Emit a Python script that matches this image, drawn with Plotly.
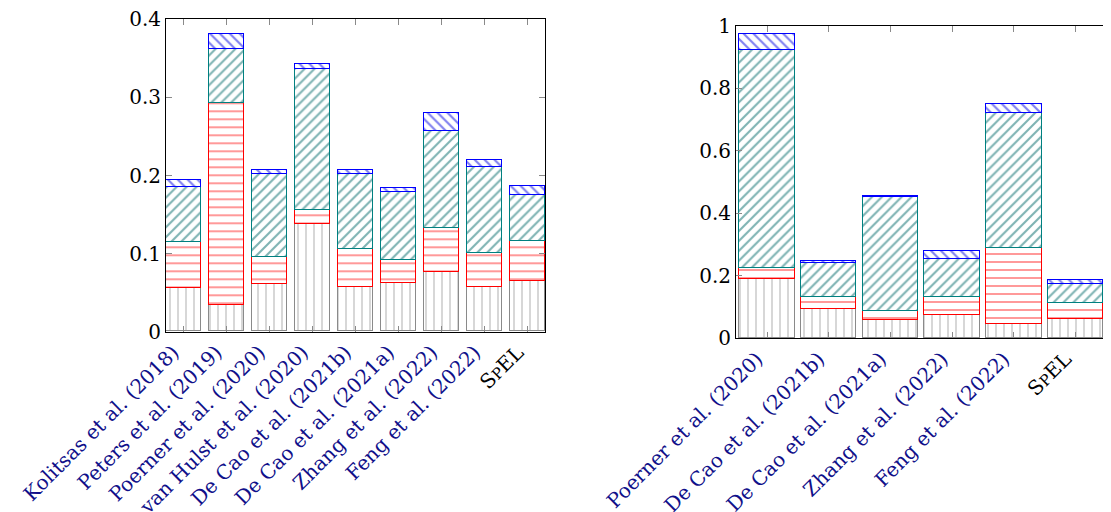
import plotly.graph_objects as go

# ---- data ----
left_labels = ["Kolitsas et al. (2018)", "Peters et al. (2019)", "Poerner et al. (2020)",
               "van Hulst et al. (2020)", "De Cao et al. (2021b)", "De Cao et al. (2021a)",
               "Zhang et al. (2022)", "Feng et al. (2022)", "SpEL"]
left_grey = [0.056, 0.034, 0.061, 0.137, 0.057, 0.062, 0.076, 0.057, 0.065]
left_red = [0.059, 0.258, 0.034, 0.019, 0.049, 0.030, 0.057, 0.043, 0.051]
left_teal = [0.070, 0.070, 0.107, 0.180, 0.095, 0.087, 0.123, 0.110, 0.059]
left_blue = [0.009, 0.019, 0.005, 0.007, 0.006, 0.005, 0.024, 0.010, 0.011]

right_labels = ["Poerner et al. (2020)", "De Cao et al. (2021b)", "De Cao et al. (2021a)",
                "Zhang et al. (2022)", "Feng et al. (2022)", "SpEL"]
right_grey = [0.189, 0.093, 0.059, 0.076, 0.047, 0.063]
right_red = [0.035, 0.038, 0.029, 0.056, 0.241, 0.050]
right_teal = [0.699, 0.110, 0.363, 0.123, 0.435, 0.060]
right_blue = [0.051, 0.005, 0.004, 0.025, 0.027, 0.013]

left_yticks = [0, 0.1, 0.2, 0.3, 0.4]
left_yticktext = ["0", "0.1", "0.2", "0.3", "0.4"]
right_yticks = [0, 0.2, 0.4, 0.6, 0.8, 1.0]
right_yticktext = ["0", "0.2", "0.4", "0.6", "0.8", "1"]

# ---- styles ----
FONT = "DejaVu Serif"
NAVY = "#10108a"
OFF = 8  # page body margin
W, H = 1111 - OFF, 512 - OFF

series_styles = [
    dict(line="#8a8a8a", fg="#909090", shape="|", size=8, sol=0.18),
    dict(line="#ff0000", fg="#ff0000", shape="-", size=8, sol=0.2),
    dict(line="#008080", fg="#006868", shape="/", size=7, sol=0.3),
    dict(line="#0000ff", fg="#0000e0", shape="\\", size=7, sol=0.3),
]


def fmt_label(s):
    if s == "SpEL":
        return '<span style="color:#000000">S<span style="font-size:15px">P</span>EL</span>'
    return s


fig = go.Figure()


def add_panel(labels, series, width, xa, ya):
    xs = list(range(len(labels)))
    for vals, st in zip(series, series_styles):
        fig.add_trace(go.Bar(
            x=xs, y=vals, width=width, xaxis=xa, yaxis=ya, showlegend=False,
            marker=dict(color="white",
                        line=dict(color=st["line"], width=1.2),
                        pattern=dict(shape=st["shape"], fgcolor=st["fg"], bgcolor="white",
                                     size=st["size"], solidity=st["sol"])),
        ))


add_panel(left_labels, [left_grey, left_red, left_teal, left_blue], 0.81, "x", "y")
add_panel(right_labels, [right_grey, right_red, right_teal, right_blue], 0.9, "x2", "y2")

axis_common = dict(showline=True, linecolor="black", linewidth=1, mirror="ticks",
                   ticks="inside", ticklen=6, tickcolor="#8a8a8a", tickwidth=1,
                   showgrid=False, zeroline=False, automargin=False,
                   ticklabeloverflow="allow")


def px_x(p):
    return (p - OFF) / W


def px_y(p):
    return (H - (p - OFF)) / H


left_dom_x = [px_x(166), px_x(545)]
left_dom_y = [px_y(331.7), px_y(19.3)]
right_dom_x = [px_x(736), 1.0]
right_dom_y = [px_y(338.3), px_y(26)]

xtickfont = dict(family=FONT, size=20, color=NAVY)

fig.update_layout(
    width=W, height=H, barmode="stack", bargap=0,
    paper_bgcolor="white", plot_bgcolor="white",
    margin=dict(l=0, r=0, t=0, b=0, autoexpand=False),
    font=dict(family=FONT, size=20, color="black"),
    xaxis=dict(domain=left_dom_x, anchor="y", range=[-0.4, 8.4],
               tickvals=list(range(len(left_labels))),
               ticktext=[fmt_label(s) for s in left_labels],
               tickangle=-45, tickfont=xtickfont, ticklabelshift=-10,
               **axis_common),
    yaxis=dict(domain=left_dom_y, anchor="x", range=[0, 0.4],
               tickvals=left_yticks, ticktext=left_yticktext,
               tickfont=dict(family=FONT, size=20, color="black"),
               **axis_common),
    xaxis2=dict(domain=right_dom_x, anchor="y2", range=[-0.503, 5.449 + OFF / 63],
                tickvals=list(range(len(right_labels))),
                ticktext=[fmt_label(s) for s in right_labels],
                tickangle=-45, tickfont=xtickfont, ticklabelshift=-10,
                **axis_common),
    yaxis2=dict(domain=right_dom_y, anchor="x2", range=[0, 1.0],
                tickvals=right_yticks, ticktext=right_yticktext,
                tickfont=dict(family=FONT, size=20, color="black"),
                **axis_common),
)

fig.write_html("out.html")
